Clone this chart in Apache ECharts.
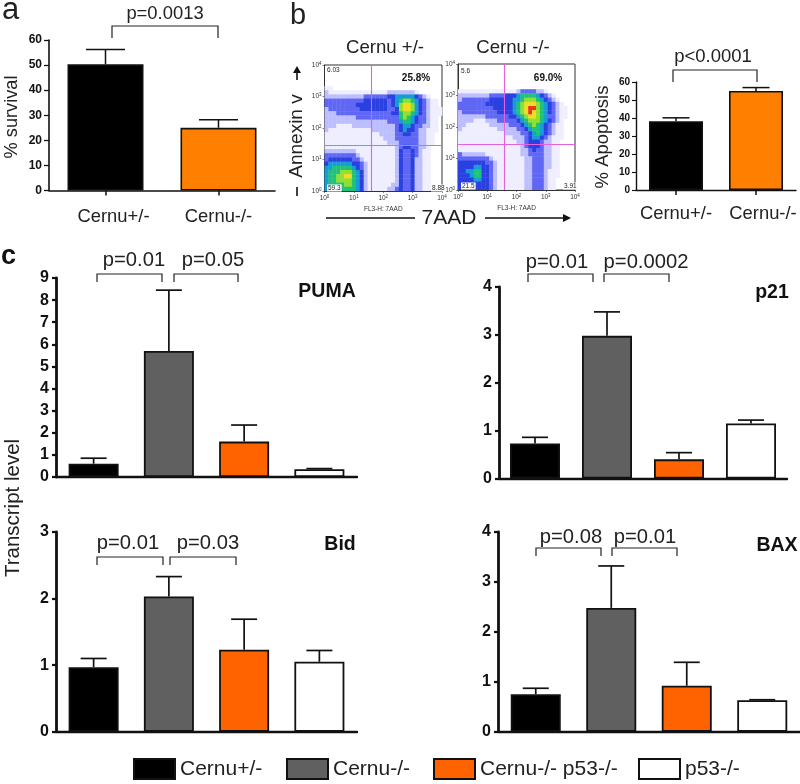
<!DOCTYPE html>
<html><head><meta charset="utf-8">
<style>html,body{margin:0;padding:0;background:#fff}#c{width:800px;height:784px;filter:blur(0.4px)}</style>
<script src="https://cdn.jsdelivr.net/npm/echarts@6/dist/echarts.min.js"></script>
</head><body><div id="c"></div>
<script>
const FONT='"Liberation Sans",Arial,sans-serif';
// ---- data ----
const groups=['Cernu+/-','Cernu-/-','Cernu-/- p53-/-','p53-/-'];
const pairCats=['Cernu+/-','Cernu-/-'];
const survivalMean=[50.3,25];
const survivalUpper=[56.2,28.2];
const apoptosisMean=[38.2,55];
const apoptosisUpper=[40.1,56.9];
const pumaMean=[0.6,5.7,1.6,0.35];
const pumaUpper=[0.85,8.45,2.35,0.38];
const p21Mean=[0.73,2.98,0.4,1.15];
const p21Upper=[0.86,3.48,0.54,1.22];
const bidMean=[0.97,2.03,1.23,1.05];
const bidUpper=[1.1,2.33,1.69,1.22];
const baxMean=[0.75,2.48,0.92,0.63];
const baxUpper=[0.87,3.32,1.39,0.64];
const gateLeft=[1.59,1.45];
const gateRight=[1.58,1.45];
// flow cytometry density, read by eye: rows top to bottom (log10 4 to 0), digits 0-9
const densityLeft=[
'000000000000000000000000000000',
'000000000000000000000000000000',
'000000000000000000000000000000',
'000000000000000000000000000000',
'000000000000000000000000000000',
'110000000000000000000000000000',
'211111111111111122222221000000',
'222222222233333344555554321000',
'333333333344444434567765432110',
'333333334444444434578875432110',
'233333333444444433478875432111',
'222333333333333334467765432111',
'222222223333333333367654332110',
'222222222222222233356654332110',
'222111122222222222345543322110',
'211111111111222222345443221110',
'111111111111112222334433221100',
'111111111111111222333333221100',
'111111111111111122233333221100',
'111111111111111111234433221000',
'222222221111111111243343211000',
'333333332111111111243343211000',
'344444433211111111243342211000',
'455555544321111111243342211000',
'556666654321111111243342211000',
'566677765421111111243342211000',
'566778865421111111243342211000',
'566777765421111111243342211000',
'566667765421111112243342211000',
'566666665421111122343342211000'];
const densityRight=[
'000000000000000000000000000000',
'000000000000000000000000000000',
'000000000000000000000000000000',
'000000000000000000000000000000',
'000000000000000000000000000000',
'000000000000000000000000000000',
'111111111111111233332210000000',
'222222223333444566665432100000',
'233333334444445567776543210000',
'333333344444445678887654321000',
'333333333444445678997654321100',
'233333333344445678987654321100',
'222222233333344567887653321100',
'222211122233333456777654321000',
'221111112222233345676543211000',
'211111111122222334566543211000',
'111111111111222233456543211000',
'111111111111112223455432111000',
'111111111111111223444322110000',
'111111111111111123444322110000',
'111111111111111122343322110000',
'322222211111111122333322110000',
'333333332111111112233322110000',
'444444433211111112233322110000',
'444455443211111112233322110000',
'445566443211111112233321110000',
'444566443211111112233321110000',
'444455443211111112233321100000',
'444444443211111112233321100000',
'444444443211111112233321100000'];
const densityColors=['#ffffff','#eeeeff','#bcbeff','#5f67f4','#2a40e0','#169cd6','#20c27a','#8fe030','#f2dc20','#ee3414'];
// ---- styles ----
const groupColors=['#000000','#606060','#ff6300','#ffffff'];
const pairColors=['#000000','#ff8000'];
const STEP=4/30;
function densityCells(rows){const out=[];rows.forEach((r,i)=>{[...r].forEach((ch,j)=>{const d=+ch;if(d>0)out.push([j*STEP,4-(i+1)*STEP,d]);});});return out;}

const grids=[],xAxes=[],yAxes=[],series=[];
function addBarGrid(g,cats,cfg){
  const idx=grids.length;
  grids.push(Object.assign({containLabel:false},g));
  xAxes.push({type:'category',gridIndex:idx,data:cats,
    axisLine:{lineStyle:{color:'#111',width:cfg.xw}},
    axisTick:{show:!!cfg.xticks,alignWithLabel:true,length:5,lineStyle:{color:'#111',width:1.5}},
    axisLabel:cfg.xticks?{interval:0,margin:cfg.xm,fontFamily:FONT,color:'#222',fontSize:18.4,
       formatter:cfg.xfmt,rich:cfg.xrich}:{show:false}});
  yAxes.push({type:'value',gridIndex:idx,min:0,max:cfg.max,interval:cfg.step,splitLine:{show:false},
    axisLine:{show:true,lineStyle:{color:'#111',width:cfg.yw}},
    axisTick:{show:true,length:cfg.tl,lineStyle:{color:'#111',width:cfg.yw*0.8}},
    axisLabel:Object.assign({fontFamily:FONT,fontWeight:'bold',color:'#111',fontSize:cfg.yfs,margin:cfg.ym},cfg.ypad?{padding:cfg.ypad}:{})});
  return idx;
}
function errSeries(idx,means,uppers,cap,w){
  series.push({type:'custom',xAxisIndex:idx,yAxisIndex:idx,z:1,silent:true,clip:false,
    data:means.map((m,i)=>[i,m,uppers[i]]),encode:{x:0,y:[1,2]},
    renderItem(p,api){
      const a=api.coord([api.value(0),api.value(1)]),b=api.coord([api.value(0),api.value(2)]);
      const st={stroke:'#111',lineWidth:w,fill:null};
      return {type:'group',children:[
        {type:'line',shape:{x1:a[0],y1:a[1],x2:b[0],y2:b[1]},style:st},
        {type:'line',shape:{x1:b[0]-cap/2,y1:b[1],x2:b[0]+cap/2,y2:b[1]},style:st}]};
    }});
}
function pairPanel(g,means,uppers,cfg){
  const idx=addBarGrid(g,pairCats,cfg);
  series.push({type:'bar',name:cfg.id,xAxisIndex:idx,yAxisIndex:idx,barWidth:cfg.bw,z:2,
    data:means.map((v,i)=>({value:v,itemStyle:{color:pairColors[i],borderColor:'#111',borderWidth:1.6}}))});
  errSeries(idx,means,uppers,cfg.cap,1.5);
}
function groupPanel(g,means,uppers,max){
  const idx=addBarGrid(g,groups,{xw:2.4,yw:2.8,tl:4,yfs:16,ym:7,ypad:[6,0,0,0],max:max,step:1});
  groups.forEach((name,k)=>{
    series.push({type:'bar',name,xAxisIndex:idx,yAxisIndex:idx,barWidth:50,barGap:'-100%',z:2,
      itemStyle:{color:groupColors[k],borderColor:'#111',borderWidth:1.8},
      data:means.map((v,i)=>i===k?v:null)});
  });
  errSeries(idx,means,uppers,26,1.7);
}
pairPanel({left:49,top:40,width:226,height:150.5},survivalMean,survivalUpper,{id:'survival',xw:1.6,yw:1.6,tl:5,yfs:12,ym:7,max:60,step:10,xticks:true,xm:17,bw:76,cap:39,
  xfmt:(v,i)=>i===0?'{a|'+v+'}':v,xrich:{a:{padding:[0,0,0,16],fontSize:18.4,fontFamily:FONT,color:'#222'}}});
pairPanel({left:636,top:82,width:160,height:108},apoptosisMean,apoptosisUpper,{id:'apoptosis',xw:1.4,yw:1.4,tl:4,yfs:10,ym:6,max:60,step:10,xticks:true,xm:15,bw:54,cap:27,
  xfmt:(v,i)=>i===1?'{a|'+v+'}':v,xrich:{a:{padding:[0,0,0,14],fontSize:18.4,fontFamily:FONT,color:'#222'}}});
groupPanel({left:56,top:278,width:301,height:199},pumaMean,pumaUpper,9);
groupPanel({left:499,top:287,width:288,height:191.5},p21Mean,p21Upper,4);
groupPanel({left:56,top:532,width:301,height:199.7},bidMean,bidUpper,3);
groupPanel({left:498,top:532,width:302,height:199.7},baxMean,baxUpper,4);

const densityIdx=[];
function flowPanel(g,rows,gate){
  const idx=grids.length;
  grids.push(Object.assign({show:true,borderColor:'#333',borderWidth:1,backgroundColor:'#fff'},g));
  const lab={fontFamily:FONT,color:'#333',fontSize:6.5,margin:3,
    formatter:v=>'{b|10}{s|'+v+'}',rich:{b:{fontSize:6.5,fontFamily:FONT,color:'#333'},s:{fontSize:4.5,fontFamily:FONT,color:'#333',verticalAlign:'top',padding:[0,0,3,0]}}};
  xAxes.push({type:'value',gridIndex:idx,min:0,max:4,interval:1,splitLine:{show:false},name:'FL3-H: 7AAD',nameLocation:'middle',nameGap:15,
    nameTextStyle:{fontFamily:FONT,fontSize:6.5,color:'#333'},
    axisLine:{lineStyle:{color:'#333',width:1}},axisTick:{length:2,lineStyle:{color:'#333',width:.6}},axisLabel:lab});
  yAxes.push({type:'value',gridIndex:idx,min:0,max:4,interval:1,splitLine:{show:false},
    axisLine:{show:true,lineStyle:{color:'#333',width:1}},axisTick:{length:2,lineStyle:{color:'#333',width:.6}},axisLabel:lab});
  densityIdx.push(series.length);
  series.push({type:'custom',xAxisIndex:idx,yAxisIndex:idx,silent:true,z:1,clip:true,
    data:densityCells(rows),encode:{x:0,y:1},
    renderItem(p,api){
      const c=api.coord([api.value(0),api.value(1)+STEP]),s=api.size([STEP,STEP]);
      return {type:'rect',shape:{x:c[0],y:c[1],width:s[0]+.4,height:s[1]+.4},style:{fill:api.visual('color')}};
    },
    markLine:{silent:true,symbol:'none',label:{show:false},animation:false,lineStyle:{color:'#e262e2',width:1.1,type:'solid'},
      data:[{xAxis:gate[0]},{yAxis:gate[1]}]}});
}
flowPanel({left:324.5,top:65,width:117.5,height:126},densityLeft,gateLeft);
flowPanel({left:458,top:64,width:117,height:126},densityRight,gateRight);

// ---- annotations ----
const T=(text,x,y,size,o={})=>({type:'text',z:50,x,y,rotation:o.rot||0,style:{text,fontFamily:FONT,fontSize:size,fontWeight:o.bold?'bold':'normal',fill:o.fill||'#222',
   align:o.align||'center',verticalAlign:'middle',backgroundColor:o.bg,padding:o.bg?[0,1]:undefined}});
const bracket=(x1,x2,yt,yb)=>({type:'polyline',z:50,shape:{points:[[x1,yb],[x1,yt],[x2,yt],[x2,yb]]},style:{stroke:'#222',lineWidth:1.2,fill:null}});
const R90=Math.PI/2;
const graphic=[
 T('a',2,10,31,{align:'left'}),T('b',290,16,29,{align:'left'}),T('c',1,257,27,{align:'left',bold:true,fill:'#111'}),
 T('p=0.0013',165,14,18.4),bracket(112,218,26,38),
 T('p<0.0001',713,57,18.5),bracket(673,757,70,82),
 T('% survival',12,117,18.2,{rot:R90}),T('% Apoptosis',603,137,18.5,{rot:R90}),
 T('Transcript level',13,508,20.5,{rot:R90}),
 T('Cernu +/-',385,48,18.6),T('Cernu -/-',513,48,18.6),
 T('Annexin v',297,136,19,{rot:R90}),
 {type:'line',z:50,shape:{x1:297,y1:80,x2:297,y2:71},style:{stroke:'#111',lineWidth:1.6}},
 {type:'polygon',z:50,shape:{points:[[297,66],[293,73],[301,73]]},style:{fill:'#111'}},
 {type:'line',z:50,shape:{x1:297,y1:187,x2:297,y2:196},style:{stroke:'#111',lineWidth:1.6}},
 T('7AAD',449,218,21),
 {type:'line',z:50,shape:{x1:326,y1:218,x2:415,y2:218},style:{stroke:'#111',lineWidth:1.4}},
 {type:'line',z:50,shape:{x1:485,y1:218,x2:566,y2:218},style:{stroke:'#111',lineWidth:1.4}},
 {type:'polygon',z:50,shape:{points:[[571,218],[563,214],[563,222]]},style:{fill:'#111'}},
 T('6.03',327,70,6.5,{align:'left'}),T('25.8%',416,78,10,{bold:true,fill:'#111'}),
 T('59.3',327,188,6.5,{align:'left',bg:'#fff'}),T('8.88',431,188,6.5,{align:'left',bg:'#fff'}),
 T('5.6',461,71,6.5,{align:'left'}),T('69.0%',548,78,10,{bold:true,fill:'#111'}),
 T('21.5',461,186,6.5,{align:'left',bg:'#fff'}),T('3.91',563,186,6.5,{align:'left',bg:'#fff'}),
 T('p=0.01',134,260,20.2),T('p=0.05',213,260,20.2),bracket(97,162,274,282),bracket(174,238,274,282),
 T('PUMA',327,292,19.5,{bold:true,fill:'#111'}),
 T('p=0.01',557,262,20.2),T('p=0.0002',646,262,20.2),bracket(528,593,274,282),bracket(604,669,274,282),
 T('p21',772,293,19.5,{bold:true,fill:'#111'}),
 T('p=0.01',128,543,20.2),T('p=0.03',208,543,20.2),bracket(97,163,557,565),bracket(170,236,557,565),
 T('Bid',340,545,19.5,{bold:true,fill:'#111'}),
 T('p=0.08',571,537,20.2),T('p=0.01',645,537,20.2),bracket(536,601,548,556),bracket(612,677,548,556),
 T('BAX',777,546,19.5,{bold:true,fill:'#111'})
];
const legendLeft=[133,286,433,638];
const legend=groups.map((n,i)=>({data:[{name:n,icon:'rect'}],left:legendLeft[i],top:758,padding:0,itemWidth:41,itemHeight:20,itemGap:0,selectedMode:false,
  textStyle:{fontFamily:FONT,fontSize:21,color:'#222',padding:[0,0,0,0]}}));

const chart=echarts.init(document.getElementById('c'),null,{renderer:'canvas'});
chart.setOption({animation:false,backgroundColor:'#fff',grid:grids,xAxis:xAxes,yAxis:yAxes,series,legend,graphic,
  visualMap:[{show:false,type:'continuous',seriesIndex:densityIdx,dimension:2,min:0,max:9,inRange:{color:densityColors}}]});
</script></body></html>
